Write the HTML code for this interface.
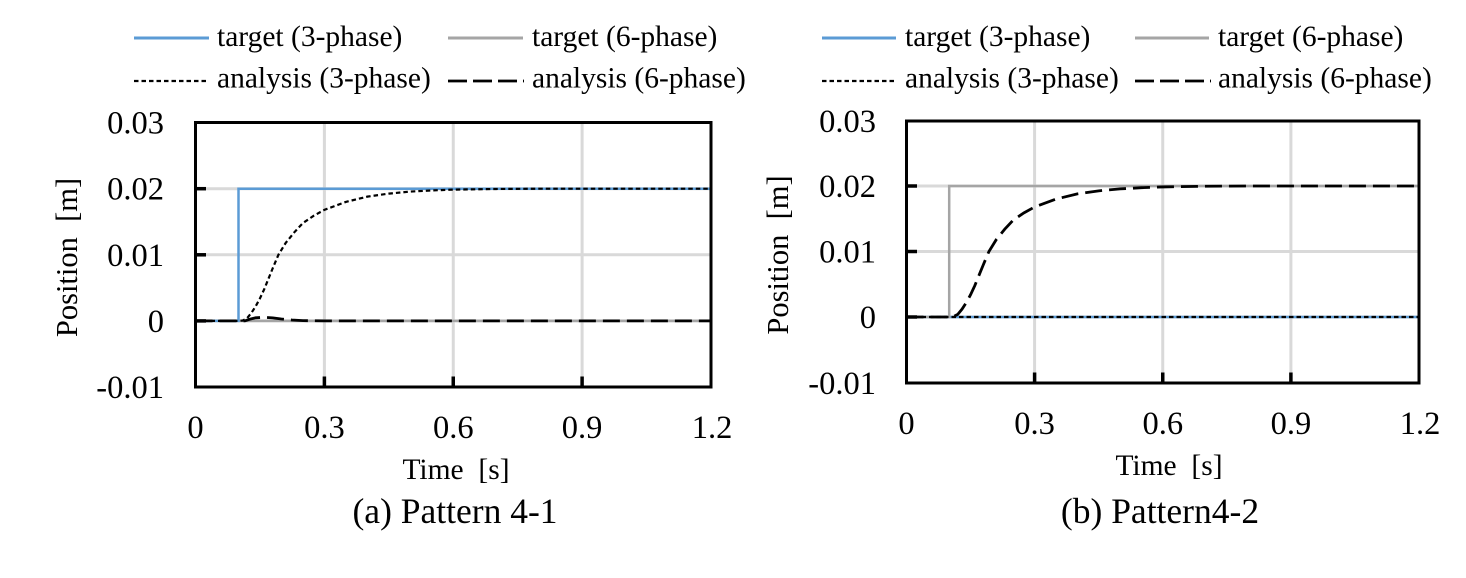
<!DOCTYPE html>
<html>
<head>
<meta charset="utf-8">
<style>
html,body{margin:0;padding:0;background:#fff;}
svg{display:block;}
text{font-family:"Liberation Serif","Times New Roman",serif;fill:#000;}
</style>
</head>
<body>
<svg width="1466" height="578" viewBox="0 0 1466 578" xmlns="http://www.w3.org/2000/svg">
<rect x="0" y="0" width="1466" height="578" fill="#fff"/>

<!-- ===== LEFT LEGEND ===== -->
<g font-size="29.5">
  <line x1="134" y1="38" x2="209" y2="38" stroke="#5b9bd5" stroke-width="3"/>
  <text x="217" y="46">target (3-phase)</text>
  <line x1="448" y1="38" x2="523" y2="38" stroke="#a5a5a5" stroke-width="3"/>
  <text x="532" y="46">target (6-phase)</text>
  <line x1="134" y1="81" x2="209" y2="81" stroke="#000" stroke-width="2.2" stroke-dasharray="4.5 3"/>
  <text x="217" y="87.5">analysis (3-phase)</text>
  <line x1="448" y1="81" x2="524" y2="81" stroke="#000" stroke-width="2.8" stroke-dasharray="19 6"/>
  <text x="532" y="87.5">analysis (6-phase)</text>
</g>

<!-- ===== RIGHT LEGEND ===== -->
<g font-size="29.5">
  <line x1="822" y1="38" x2="896" y2="38" stroke="#5b9bd5" stroke-width="3"/>
  <text x="905" y="46">target (3-phase)</text>
  <line x1="1135" y1="38" x2="1209" y2="38" stroke="#a5a5a5" stroke-width="3"/>
  <text x="1218" y="46">target (6-phase)</text>
  <line x1="822" y1="81" x2="896" y2="81" stroke="#000" stroke-width="2.2" stroke-dasharray="4.5 3"/>
  <text x="905" y="87.5">analysis (3-phase)</text>
  <line x1="1135" y1="81" x2="1211" y2="81" stroke="#000" stroke-width="2.8" stroke-dasharray="19 6"/>
  <text x="1218" y="87.5">analysis (6-phase)</text>
</g>

<!-- ===== LEFT PLOT ===== -->
<g>
  <g stroke="#d9d9d9" stroke-width="3">
    <line x1="195.5" y1="188.7" x2="711" y2="188.7"/>
    <line x1="195.5" y1="254.8" x2="711" y2="254.8"/>
    <line x1="195.5" y1="320.9" x2="711" y2="320.9"/>
    <line x1="324.4" y1="122.5" x2="324.4" y2="387"/>
    <line x1="453.25" y1="122.5" x2="453.25" y2="387"/>
    <line x1="582.1" y1="122.5" x2="582.1" y2="387"/>
  </g>
  <path d="M195.5,320.9 H711" fill="none" stroke="#a5a5a5" stroke-width="2.5"/>
  <path d="M195.5,320.9 H238.5 V188.7 H711" fill="none" stroke="#5b9bd5" stroke-width="2.5"/>
  <path d="M195.5,320.9 L238.46,320.9 L242.75,320.5 L247.05,318.26 L251.35,312.97 L255.64,306.36 L259.94,298.43 L264.23,289.17 L268.53,278.6 L272.82,268 L278.41,254.8 L285.71,242.9 L294.3,232.3 L302.9,223.07 L313.63,215.8 L324.37,209.85 L345.85,201.92 L367.33,196.63 L388.81,193.6 L410.29,191.6 L431.77,190.42 L453.25,189.63 L496.21,188.97 L539.16,188.7 L711,188.7" fill="none" stroke="#000" stroke-width="2.2" stroke-dasharray="4.5 3"/>
  <path d="M195.5,320.9 L244.9,320.9 L249.2,319.4 L255.6,317.8 L264.2,317.3 L272.8,317.9 L281.4,319.0 L292,320.0 L302.9,320.6 L324.4,320.9 L711,320.9" fill="none" stroke="#000" stroke-width="2.8" stroke-dasharray="17 7"/>
  <g stroke="#000" stroke-width="3.5">
    <line x1="195.5" y1="188.7" x2="206" y2="188.7"/>
    <line x1="195.5" y1="254.8" x2="206" y2="254.8"/>
    <line x1="195.5" y1="320.9" x2="206" y2="320.9"/>
    <line x1="324.4" y1="387" x2="324.4" y2="376.5"/>
    <line x1="453.25" y1="387" x2="453.25" y2="376.5"/>
    <line x1="582.1" y1="387" x2="582.1" y2="376.5"/>
  </g>
  <rect x="195.5" y="122.5" width="515.5" height="264.5" fill="none" stroke="#000" stroke-width="3"/>
  <g font-size="32.5" text-anchor="end">
    <text x="164" y="133.5">0.03</text>
    <text x="164" y="199.6">0.02</text>
    <text x="164" y="265.8">0.01</text>
    <text x="164" y="331.9">0</text>
    <text x="164" y="398">-0.01</text>
  </g>
  <g font-size="32.5" text-anchor="middle">
    <text x="195.5" y="438">0</text>
    <text x="324.4" y="438">0.3</text>
    <text x="453.25" y="438">0.6</text>
    <text x="582.1" y="438">0.9</text>
    <text x="712" y="438">1.2</text>
  </g>
  <text x="456" y="479" font-size="29.5" text-anchor="middle" style="white-space:pre" xml:space="preserve">Time  [s]</text>
  <text transform="translate(77,257.5) rotate(-90)" font-size="30.5" text-anchor="middle" style="white-space:pre" xml:space="preserve">Position  [m]</text>
  <text x="455" y="523" font-size="35.5" text-anchor="middle">(a) Pattern 4-1</text>
</g>

<!-- ===== RIGHT PLOT ===== -->
<g>
  <g stroke="#d9d9d9" stroke-width="3">
    <line x1="906.5" y1="186" x2="1419" y2="186"/>
    <line x1="906.5" y1="251.5" x2="1419" y2="251.5"/>
    <line x1="906.5" y1="317" x2="1419" y2="317"/>
    <line x1="1034.6" y1="121" x2="1034.6" y2="383"/>
    <line x1="1162.75" y1="121" x2="1162.75" y2="383"/>
    <line x1="1290.9" y1="121" x2="1290.9" y2="383"/>
  </g>
  <path d="M906.5,317 H1419" fill="none" stroke="#5b9bd5" stroke-width="2.5"/>
  <path d="M906.5,317 H949.2 V186 H1419" fill="none" stroke="#a5a5a5" stroke-width="2.5"/>
  <path d="M906.5,317 H1419" fill="none" stroke="#000" stroke-width="2.2" stroke-dasharray="4.5 3"/>
  <path d="M906.5,317 L949.21,317 L953.48,316.6 L957.75,314.38 L962.02,309.14 L966.29,302.59 L970.56,294.73 L974.83,285.56 L979.1,275.08 L983.37,264.6 L988.93,251.5 L996.19,239.71 L1004.73,229.23 L1013.27,220.06 L1023.95,212.86 L1034.62,206.96 L1055.98,199.1 L1077.33,193.86 L1098.69,190.85 L1120.04,188.88 L1141.39,187.7 L1162.75,186.92 L1205.46,186.26 L1248.16,186 L1419,186" fill="none" stroke="#000" stroke-width="2.8" stroke-dasharray="17 7"/>
  <g stroke="#000" stroke-width="3.5">
    <line x1="906.5" y1="186" x2="917" y2="186"/>
    <line x1="906.5" y1="251.5" x2="917" y2="251.5"/>
    <line x1="906.5" y1="317" x2="917" y2="317"/>
    <line x1="1034.6" y1="383" x2="1034.6" y2="372.5"/>
    <line x1="1162.75" y1="383" x2="1162.75" y2="372.5"/>
    <line x1="1290.9" y1="383" x2="1290.9" y2="372.5"/>
  </g>
  <rect x="906.5" y="121" width="512.5" height="262" fill="none" stroke="#000" stroke-width="3"/>
  <g font-size="32.5" text-anchor="end">
    <text x="876" y="132">0.03</text>
    <text x="876" y="197">0.02</text>
    <text x="876" y="262.5">0.01</text>
    <text x="876" y="328">0</text>
    <text x="876" y="394">-0.01</text>
  </g>
  <g font-size="32.5" text-anchor="middle">
    <text x="906.5" y="434">0</text>
    <text x="1034.6" y="434">0.3</text>
    <text x="1162.75" y="434">0.6</text>
    <text x="1290.9" y="434">0.9</text>
    <text x="1420" y="434">1.2</text>
  </g>
  <text x="1169" y="475" font-size="29.5" text-anchor="middle" style="white-space:pre" xml:space="preserve">Time  [s]</text>
  <text transform="translate(788,255) rotate(-90)" font-size="30.5" text-anchor="middle" style="white-space:pre" xml:space="preserve">Position  [m]</text>
  <text x="1160" y="523" font-size="35.5" text-anchor="middle">(b) Pattern4-2</text>
</g>
</svg>
</body>
</html>
